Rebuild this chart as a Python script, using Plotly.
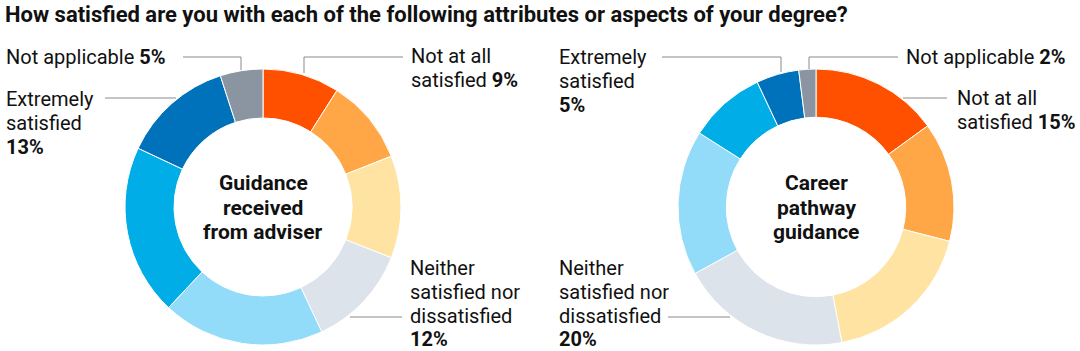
import plotly.graph_objects as go

W, H = 1080, 351

categories = [
    "Not at all satisfied",
    "Very dissatisfied",
    "Somewhat dissatisfied",
    "Neither satisfied nor dissatisfied",
    "Somewhat satisfied",
    "Very satisfied",
    "Extremely satisfied",
    "Not applicable",
]
adviser_values = [9, 10, 12, 12, 19, 20, 13, 5]
career_values = [15, 14, 18, 20, 17, 9, 5, 2]
colors = ["#FF5000", "#FFA646", "#FFE3A3", "#DDE3EB", "#92DBF9", "#00ADE6", "#0071BB", "#8A95A1"]

title_text = "How satisfied are you with each of the following attributes or aspects of your degree?"
center_adviser = ["Guidance", "received", "from adviser"]
center_career = ["Career", "pathway", "guidance"]

LABEL_FONT = "Roboto"
TXT = "#111111"
LINE = "#8a8a8a"


def px(x):
    return x / W


def py(y):
    return 1 - y / H


fig = go.Figure()

fig.add_trace(go.Pie(
    labels=categories, values=adviser_values, sort=False, direction="clockwise",
    rotation=0, hole=0.645, textinfo="none", hoverinfo="label+percent",
    marker=dict(colors=colors, line=dict(color="white", width=1)),
    domain=dict(x=[px(263 - 138), px(263 + 138)], y=[py(345), py(69)]),
    showlegend=False,
))
fig.add_trace(go.Pie(
    labels=categories, values=career_values, sort=False, direction="clockwise",
    rotation=0, hole=0.65, textinfo="none", hoverinfo="label+percent",
    marker=dict(colors=colors, line=dict(color="white", width=1)),
    domain=dict(x=[px(816 - 138), px(816 + 138)], y=[py(345), py(69)]),
    showlegend=False,
))

ann = []


def text_lines(x, ys, lines, size=20, anchor="left"):
    for y, t in zip(ys, lines):
        ann.append(dict(x=px(x), y=py(y), xref="paper", yref="paper", text=t,
                        showarrow=False, xanchor=anchor, yanchor="middle",
                        font=dict(family=LABEL_FONT, size=size, color=TXT)))


def pct(v):
    return f"<b>{v}%</b>"


# Title
ann.append(dict(x=px(3), y=py(14), xref="paper", yref="paper", text=f"<b>{title_text}</b>",
                showarrow=False, xanchor="left", yanchor="middle",
                font=dict(family="Roboto", size=22, color=TXT)))

# Left donut labels
text_lines(4, [57], [f"Not applicable {pct(adviser_values[7])}"])
text_lines(4, [99, 123, 147], ["Extremely", "satisfied", pct(adviser_values[6])])
text_lines(409, [56, 80], ["Not at all", f"satisfied {pct(adviser_values[0])}"])
text_lines(408, [268, 292, 316, 339], ["Neither", "satisfied nor", "dissatisfied", pct(adviser_values[3])])

# Right donut labels
text_lines(557, [57, 81, 105], ["Extremely", "satisfied", pct(career_values[6])])
text_lines(904, [57], [f"Not applicable {pct(career_values[7])}"])
text_lines(955, [98, 122], ["Not at all", f"satisfied {pct(career_values[0])}"])
text_lines(557, [268, 292, 316, 339], ["Neither", "satisfied nor", "dissatisfied", pct(career_values[3])])

# Center labels
for cx, lines in [(263, center_adviser), (816, center_career)]:
    for y, t in zip([183, 208, 232], lines):
        ann.append(dict(x=px(cx), y=py(y), xref="paper", yref="paper", text=f"<b>{t}</b>",
                        showarrow=False, xanchor="center", yanchor="middle",
                        font=dict(family="Roboto", size=21, color=TXT)))

# Leader lines (pixel paths)
leaders = [
    [(183, 57), (241, 57), (241, 70)],
    [(105, 98), (176, 98)],
    [(403, 57), (304, 57), (304, 73)],
    [(350, 317), (402, 317)],
    [(662, 57), (781, 57), (781, 72)],
    [(898, 57), (809, 57), (809, 69)],
    [(903, 98), (947, 98)],
    [(668, 317), (730, 317)],
]
shapes = []
for pts in leaders:
    path = "M " + " L ".join(f"{px(x)},{py(y)}" for x, y in pts)
    shapes.append(dict(type="path", xref="paper", yref="paper", path=path,
                       line=dict(color=LINE, width=1)))

fig.update_layout(
    width=W, height=H, margin=dict(l=0, r=0, t=0, b=0),
    paper_bgcolor="white", plot_bgcolor="white",
    annotations=ann, shapes=shapes,
)

fig.write_html("out.html")
